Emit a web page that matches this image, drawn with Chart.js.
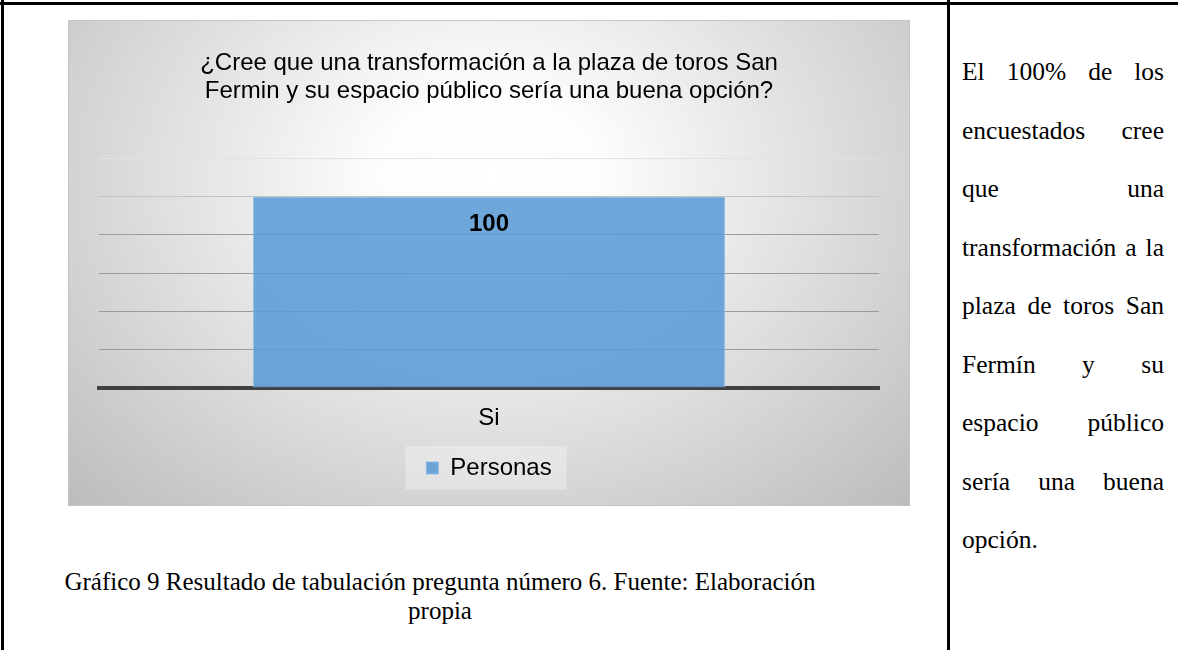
<!DOCTYPE html>
<html lang="es">
<head>
<meta charset="utf-8">
<title>Gráfico 9</title>
<script src="https://cdn.jsdelivr.net/npm/chart.js@4.4.1/dist/chart.umd.min.js"></script>
<style>
  html, body { margin: 0; padding: 0; background: #fff; }
  body { width: 1178px; height: 650px; position: relative; overflow: hidden; }
  .rule { position: absolute; background: #000; }
  #chartBox {
    position: absolute; left: 68px; top: 20px; width: 842px; height: 486px;
    box-sizing: border-box; border: 1px solid #c4c4c4;
    background: radial-gradient(ellipse farthest-corner at 50% 32%, #ffffff 0%, #fdfdfd 18%, #bcbcbc 100%);
  }
  #caption {
    position: absolute; left: 60px; top: 567px; width: 760px;
    font: 25px "Liberation Serif", "Times New Roman", serif; line-height: 29px;
    text-align: center; color: #000;
  }
  #note {
    position: absolute; left: 962px; top: 43px; width: 202px;
    font: 25.5px "Liberation Serif", "Times New Roman", serif; line-height: 58.5px;
    text-align: justify; color: #000;
  }
</style>
</head>
<body>
<div class="rule" style="left:0;top:2px;width:1178px;height:3px"></div>
<div class="rule" style="left:1px;top:0;width:3px;height:650px"></div>
<div class="rule" style="left:947px;top:0;width:3px;height:650px"></div>

<div id="chartBox"><canvas id="chart"></canvas></div>

<div id="caption">Gráfico 9 Resultado de tabulación pregunta número 6. Fuente: Elaboración propia</div>
<div id="note">El 100% de los encuestados cree que una transformación a la plaza de toros San Fermín y su espacio público sería una buena opción.</div>

<script>
/* ---------- Data ---------- */
const TITLE_LINES = [
  "¿Cree que una transformación a la plaza de toros San",
  "Fermin y su espacio público sería una buena opción?"
];
const CATEGORIES = ["Si"];
const SERIES_NAME = "Personas";
const PERSONAS = [100];
const Y_MIN = 0;
const Y_MAX = 120;
const Y_STEP = 20;

const FONT = "'Liberation Sans', Arial, sans-serif";

/* ---------- Small plugins: value labels + legend backdrop ---------- */
const valueLabels = {
  id: "valueLabels",
  afterDatasetsDraw(chart) {
    const ctx = chart.ctx;
    chart.data.datasets.forEach((ds, i) => {
      chart.getDatasetMeta(i).data.forEach((bar, j) => {
        ctx.save();
        ctx.font = "bold 24px " + FONT;
        ctx.fillStyle = "#000";
        ctx.textAlign = "center";
        ctx.textBaseline = "middle";
        ctx.fillText(ds.data[j], bar.x, bar.y + 28);
        ctx.restore();
      });
    });
  }
};

const legendBack = {
  id: "legendBack",
  beforeDraw(chart) {
    const hb = chart.legend && chart.legend.legendHitBoxes && chart.legend.legendHitBoxes[0];
    if (!hb) return;
    const ctx = chart.ctx;
    ctx.save();
    ctx.fillStyle = "rgba(255,255,255,0.3)";
    ctx.fillRect(hb.left - 21, hb.top - 10, hb.width + 36, hb.height + 20);
    ctx.restore();
  }
};

/* ---------- Chart ---------- */
new Chart(document.getElementById("chart"), {
  type: "bar",
  data: {
    labels: CATEGORIES,
    datasets: [{
      label: SERIES_NAME,
      data: PERSONAS,
      backgroundColor: "rgba(91,155,213,0.88)",
      borderColor: "rgba(140,186,228,1)",
      borderWidth: 1,
      barPercentage: 0.605,
      categoryPercentage: 1
    }]
  },
  options: {
    responsive: true,
    maintainAspectRatio: false,
    animation: false,
    layout: { padding: { left: 30, right: 30, top: 0, bottom: 15 } },
    plugins: {
      title: {
        display: true,
        text: TITLE_LINES,
        color: "#000",
        font: { family: FONT, size: 24, weight: "normal", lineHeight: 1.17 },
        padding: { top: 28, bottom: 53 }
      },
      legend: {
        position: "bottom",
        labels: {
          color: "#000",
          boxWidth: 12,
          boxHeight: 12,
          padding: 10,
          font: { family: FONT, size: 24 }
        }
      },
      tooltip: { enabled: false }
    },
    scales: {
      x: {
        grid: { display: false, drawTicks: false },
        border: { display: true, color: "#404040", width: 4 },
        ticks: { color: "#000", padding: 16, font: { family: FONT, size: 24 } },
        afterFit(scale) { scale.height = 58; }
      },
      y: {
        min: Y_MIN,
        max: Y_MAX,
        ticks: { stepSize: Y_STEP, display: false },
        border: { display: false },
        grid: {
          drawTicks: false,
          lineWidth: 1,
          color(c) {
            const v = c.tick ? c.tick.value : null;
            if (v === Y_MIN) return "rgba(0,0,0,0)";
            if (v === Y_MAX) return "#e2e2e2";
            if (v === PERSONAS[0]) return "#c4c4c4";
            return "#9c9c9c";
          }
        }
      }
    }
  },
  plugins: [legendBack, valueLabels]
});
</script>
</body>
</html>
